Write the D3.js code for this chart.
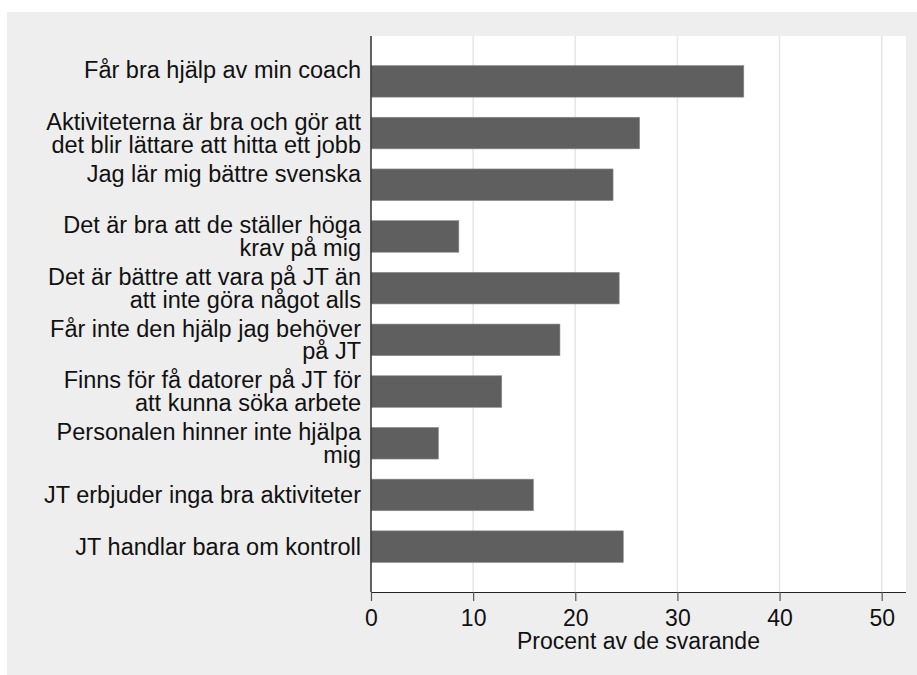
<!DOCTYPE html>
<html>
<head>
<meta charset="utf-8">
<script src="https://cdn.jsdelivr.net/npm/d3@7"></script>
<style>
  html, body { margin: 0; padding: 0; background: #ffffff; }
  svg { display: block; font-family: "Liberation Sans", Arial, sans-serif; }
</style>
</head>
<body>
<svg id="chart" width="917" height="675"></svg>
<script>
// ---- data ----
const categories = [
  ["Får bra hjälp av min coach", ""],
  ["Aktiviteterna är bra och gör att", "det blir lättare att hitta ett jobb"],
  ["Jag lär mig bättre svenska", ""],
  ["Det är bra att de ställer höga", "krav på mig"],
  ["Det är bättre att vara på JT än", "att inte göra något alls"],
  ["Får inte den hjälp jag behöver", "på JT"],
  ["Finns för få datorer på JT för", "att kunna söka arbete"],
  ["Personalen hinner inte hjälpa", "mig"],
  ["JT erbjuder inga bra aktiviteter"],
  ["JT handlar bara om kontroll"]
];
const values = [36.5, 26.3, 23.7, 8.6, 24.3, 18.5, 12.8, 6.6, 15.9, 24.7];
const xTicks = [0, 10, 20, 30, 40, 50];
const xTitle = "Procent av de svarande";

// ---- layout ----
const svg = d3.select("#chart");
const plot = { left: 371, right: 906, top: 36, bottom: 592 };
const fontSize = 23.5;
const axisFont = 23;
const lineH = 22.7;

svg.append("rect").attr("x", 7).attr("y", 12).attr("width", 910).attr("height", 663).attr("fill", "#eeeeee");
svg.append("rect").attr("x", plot.left).attr("y", plot.top)
  .attr("width", plot.right - plot.left).attr("height", plot.bottom - plot.top).attr("fill", "#ffffff");

const x = d3.scaleLinear().domain([0, 52.38]).range([plot.left, plot.right]);
const idx = d3.range(categories.length);
const y = d3.scaleBand().domain(idx).range([plot.top, plot.bottom]).paddingInner(0.389).paddingOuter(0.5715);

// gridlines
svg.append("g").selectAll("line").data(xTicks.filter(t => t > 0)).join("line")
  .attr("x1", d => x(d)).attr("x2", d => x(d))
  .attr("y1", plot.top).attr("y2", plot.bottom)
  .attr("stroke", "#e6e6e6").attr("stroke-width", 1.5);

// bars
svg.append("g").selectAll("rect").data(idx).join("rect")
  .attr("x", x(0)).attr("y", i => y(i))
  .attr("width", i => x(values[i]) - x(0)).attr("height", y.bandwidth())
  .attr("fill", "#5f5f5f").attr("stroke", "#8c8c8c").attr("stroke-width", 0.6);

// left axis line
svg.append("line").attr("x1", plot.left).attr("x2", plot.left)
  .attr("y1", plot.top).attr("y2", plot.bottom)
  .attr("stroke", "#3a3a3a").attr("stroke-width", 1.6);

// bottom axis
const xAxis = d3.axisBottom(x).tickValues(xTicks).tickSize(9).tickPadding(9).tickSizeOuter(0);
const gx = svg.append("g").attr("transform", `translate(0,${plot.bottom})`).call(xAxis);
gx.select(".domain").attr("stroke", "#222").attr("stroke-width", 1.2)
  .attr("d", `M${plot.left},0.5H${plot.right}`);
gx.selectAll(".tick line").attr("stroke", "#555").attr("stroke-width", 1.2);
gx.selectAll(".tick text").attr("font-size", axisFont).attr("fill", "#111")
  .attr("font-family", "'Liberation Sans', Arial, sans-serif");

// x title
svg.append("text").attr("x", (plot.left + plot.right) / 2).attr("y", 649)
  .attr("text-anchor", "middle").attr("font-size", axisFont).attr("fill", "#111")
  .text(xTitle);

// category labels
const lab = svg.append("g");
idx.forEach(i => {
  const lines = categories[i];
  const c = y(i) + y.bandwidth() / 2;
  const n = lines.length;
  lines.forEach((t, j) => {
    if (!t) return;
    lab.append("text")
      .attr("x", 361)
      .attr("y", c + (j - (n - 1) / 2) * lineH)
      .attr("dy", "0.35em")
      .attr("text-anchor", "end")
      .attr("font-size", fontSize).attr("fill", "#111")
      .text(t);
  });
});
</script>
</body>
</html>
